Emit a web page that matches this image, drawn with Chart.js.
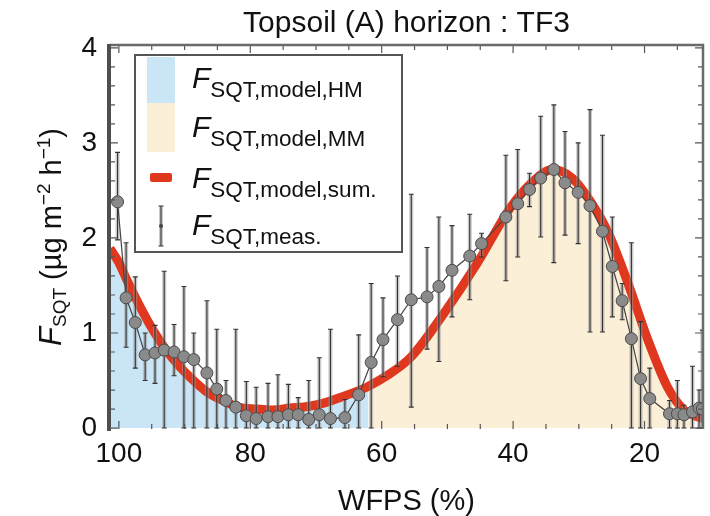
<!DOCTYPE html>
<html><head><meta charset="utf-8">
<script src="https://cdn.jsdelivr.net/npm/chart.js@4.4.1/dist/chart.umd.min.js"></script>
<style>html,body{margin:0;padding:0;background:#fff;}#wrap{width:710px;height:516px;}</style>
</head><body><div id="wrap"><canvas id="c" width="710" height="516"></canvas></div>
<script>
// ---- data ----
const measWFPS = [100.2, 98.9, 97.5, 96.0, 94.5, 93.1, 91.6, 90.1, 88.6, 86.6, 85.1, 83.7, 82.2, 80.6, 79.1, 77.3, 75.8, 74.2, 72.7, 71.1, 69.5, 67.8, 65.6, 63.5, 61.6, 59.8, 57.6, 55.5, 53.1, 51.3, 49.3, 46.6, 44.8, 41.1, 39.3, 37.5, 35.8, 33.8, 32.1, 30.1, 28.3, 26.4, 24.9, 23.4, 22.0, 20.6, 19.2, 16.2, 15.0, 14.0, 12.7, 11.7, 11.2];
const measFlux = [2.38, 1.37, 1.11, 0.77, 0.79, 0.82, 0.80, 0.75, 0.72, 0.58, 0.41, 0.29, 0.22, 0.13, 0.10, 0.12, 0.12, 0.14, 0.14, 0.09, 0.14, 0.10, 0.11, 0.35, 0.69, 0.93, 1.14, 1.35, 1.38, 1.49, 1.66, 1.81, 1.94, 2.22, 2.36, 2.51, 2.63, 2.72, 2.58, 2.48, 2.34, 2.07, 1.70, 1.34, 0.94, 0.52, 0.31, 0.15, 0.15, 0.14, 0.17, 0.21, 0.20];
const measLow  = [1.98, 0.85, 0.63, 0.50, 0.47, 0.00, 0.55, 0.00, 0.00, 0.00, 0.00, 0.00, 0.00, 0.00, 0.00, 0.00, 0.00, 0.00, 0.00, 0.00, 0.00, 0.00, 0.00, 0.00, 0.00, 0.54, 0.65, 0.22, 0.83, 0.70, 1.17, 1.35, 1.80, 1.55, 1.80, 2.33, 2.01, 1.74, 2.03, 1.94, 1.01, 1.01, 1.17, 1.14, 0.00, 0.00, 0.00, 0.00, 0.00, 0.00, 0.00, 0.00, 0.00];
const measHigh = [2.90, 1.95, 1.59, 1.00, 1.08, 1.65, 1.09, 1.49, 1.00, 1.34, 1.04, 0.50, 1.04, 0.49, 0.43, 0.47, 0.56, 0.46, 0.32, 0.50, 0.74, 1.04, 0.30, 0.98, 1.52, 1.37, 1.60, 2.46, 1.90, 2.22, 2.13, 2.25, 2.05, 2.87, 2.93, 2.68, 3.28, 3.40, 3.12, 3.00, 3.35, 3.08, 2.22, 1.52, 1.95, 1.12, 0.63, 0.29, 0.50, 0.24, 0.65, 0.40, 1.03];

const hmWFPS = [101.35, 100, 98.8, 96.8, 94.8, 92.8, 90.8, 88.8, 86.8, 84.8, 81.8, 79, 76.8, 74, 71, 69, 66, 64, 62];
const hmFlux = [1.89, 1.74, 1.56, 1.28, 1.03, 0.82, 0.65, 0.51, 0.39, 0.31, 0.22, 0.20, 0.19, 0.21, 0.23, 0.26, 0.33, 0.38, 0.44];

const mmWFPS = [62, 59, 55.5, 50.5, 45.5, 40.5, 37.5, 34, 31, 28, 25.5, 22.5, 19.5, 16.5, 14, 12.5];
const mmFlux = [0.44, 0.56, 0.75, 1.21, 1.73, 2.31, 2.56, 2.72, 2.63, 2.36, 2.05, 1.52, 0.93, 0.43, 0.19, 0.13];

const sumWFPS = [101.35, 100, 98.8, 96.8, 94.8, 92.8, 90.8, 88.8, 86.8, 84.8, 81.8, 79, 76.8, 74, 71, 69, 66, 64, 62, 59, 55.5, 50.5, 45.5, 40.5, 37.5, 34, 31, 28, 25.5, 22.5, 19.5, 16.5, 14, 12, 11.1];
const sumFlux = [1.89, 1.74, 1.56, 1.28, 1.03, 0.82, 0.65, 0.51, 0.39, 0.31, 0.22, 0.20, 0.19, 0.21, 0.23, 0.26, 0.33, 0.38, 0.44, 0.56, 0.75, 1.21, 1.73, 2.31, 2.56, 2.72, 2.63, 2.36, 2.05, 1.52, 0.93, 0.43, 0.19, 0.12, 0.10];

const xTickLabels = [100, 80, 60, 40, 20];
const yTickLabels = [0, 1, 2, 3, 4];
const xMinorStep = 5;
const yMinorStep = 0.2;

const titleText = 'Topsoil (A) horizon : TF3';
const xTitle = 'WFPS (%)';
const legendSubs = ['SQT,model,HM', 'SQT,model,MM', 'SQT,model,sum.', 'SQT,meas.'];

// ---- helpers ----
const pts = (xs, ys) => xs.map((x, i) => ({x: x, y: ys[i]}));
const FONT = '"Liberation Sans", Arial, sans-serif';

function richWidth(ctx, parts) {
  let w = 0;
  parts.forEach(p => { ctx.font = (p.it ? 'italic ' : '') + p.s + 'px ' + FONT; w += ctx.measureText(p.t).width; });
  return w;
}
function drawRich(ctx, parts, x, y) {
  parts.forEach(p => {
    ctx.font = (p.it ? 'italic ' : '') + p.s + 'px ' + FONT;
    ctx.fillText(p.t, x, y + (p.dy || 0));
    x += ctx.measureText(p.t).width;
  });
}

const decor = {
  id: 'decor',
  beforeDatasetDraw(chart, args) {
    if (args.index !== 3) return;
    const ctx = chart.ctx, xs = chart.scales.x, ys = chart.scales.y, a = chart.chartArea;
    ctx.save();
    ctx.beginPath(); ctx.rect(a.left, a.top, a.right - a.left, a.bottom - a.top); ctx.clip();
    measWFPS.forEach((w, i) => {
      const px = xs.getPixelForValue(w);
      const p1 = ys.getPixelForValue(measLow[i]), p2 = ys.getPixelForValue(measHigh[i]);
      ctx.strokeStyle = 'rgba(150,150,150,0.5)'; ctx.lineWidth = 4;
      ctx.beginPath(); ctx.moveTo(px, p1); ctx.lineTo(px, p2); ctx.stroke();
      ctx.strokeStyle = '#333'; ctx.lineWidth = 1.1;
      ctx.beginPath(); ctx.moveTo(px, p1); ctx.lineTo(px, p2);
      ctx.moveTo(px - 2.5, p2); ctx.lineTo(px + 2.5, p2);
      ctx.moveTo(px - 2.5, p1); ctx.lineTo(px + 2.5, p1);
      ctx.stroke();
    });
    ctx.restore();
  },
  afterDraw(chart) {
    const ctx = chart.ctx, xs = chart.scales.x, ys = chart.scales.y, a = chart.chartArea;
    ctx.save();
    // inward ticks
    ctx.strokeStyle = '#555'; ctx.lineWidth = 1.2;
    ctx.beginPath();
    for (let v = 15; v <= 100; v += xMinorStep) {
      const px = xs.getPixelForValue(v);
      const L = (v % 20 === 0) ? 8 : 5;
      ctx.moveTo(px, a.bottom); ctx.lineTo(px, a.bottom - L);
      ctx.moveTo(px, a.top); ctx.lineTo(px, a.top + L);
    }
    for (let k = 0; k <= 20; k++) {
      const v = k * yMinorStep;
      const py = ys.getPixelForValue(v);
      const L = (k % 5 === 0) ? 8 : 5;
      ctx.moveTo(a.left, py); ctx.lineTo(a.left + L, py);
      ctx.moveTo(a.right, py); ctx.lineTo(a.right - L, py);
    }
    ctx.stroke();
    // frame
    ctx.strokeStyle = '#6a6a6a'; ctx.lineWidth = 2.5;
    ctx.beginPath(); ctx.moveTo(a.left, a.top); ctx.lineTo(a.right, a.top); ctx.lineTo(a.right, a.bottom); ctx.stroke();
    ctx.strokeStyle = '#4f4f4f'; ctx.lineWidth = 4;
    ctx.beginPath(); ctx.moveTo(a.left - 1, a.top - 1); ctx.lineTo(a.left - 1, a.bottom + 2); ctx.stroke();

    // legend
    const L = {l: 135, t: 55, r: 402, b: 252};
    ctx.fillStyle = '#fff'; ctx.fillRect(L.l, L.t, L.r - L.l, L.b - L.t);
    ctx.strokeStyle = '#555'; ctx.lineWidth = 2;
    ctx.strokeRect(L.l, L.t, L.r - L.l, L.b - L.t);
    ctx.fillStyle = chart.data.datasets[2].backgroundColor; ctx.fillRect(147, 57, 28, 46);
    ctx.fillStyle = chart.data.datasets[1].backgroundColor; ctx.fillRect(147, 103, 28, 49);
    ctx.fillStyle = chart.data.datasets[0].borderColor;
    ctx.beginPath(); ctx.roundRect ? ctx.roundRect(150, 173, 22, 9, 2) : ctx.rect(150, 173, 22, 9); ctx.fill();
    ctx.strokeStyle = 'rgba(150,150,150,0.5)'; ctx.lineWidth = 4;
    ctx.beginPath(); ctx.moveTo(161, 206); ctx.lineTo(161, 246); ctx.stroke();
    ctx.strokeStyle = '#333'; ctx.lineWidth = 1.1;
    ctx.beginPath(); ctx.moveTo(161, 206); ctx.lineTo(161, 246);
    ctx.moveTo(158.5, 206); ctx.lineTo(163.5, 206); ctx.moveTo(158.5, 246); ctx.lineTo(163.5, 246); ctx.stroke();
    ctx.fillStyle = '#444'; ctx.beginPath(); ctx.arc(161, 226, 2, 0, Math.PI * 2); ctx.fill();

    ctx.fillStyle = '#111'; ctx.textAlign = 'left'; ctx.textBaseline = 'alphabetic';
    const baseY = [88, 137, 188, 235];
    legendSubs.forEach((s, i) => {
      drawRich(ctx, [{t: 'F', s: 30, it: true}, {t: s, s: 22.5, dy: 9}], 192, baseY[i]);
    });

    // title
    ctx.textAlign = 'center';
    ctx.font = '30px ' + FONT;
    ctx.fillText(titleText, (a.left + a.right) / 2, 32);
    // x title
    ctx.font = '29px ' + FONT;
    ctx.fillText(xTitle, (a.left + a.right) / 2, 510);
    // y title
    const yParts = [
      {t: 'F', s: 31, it: true}, {t: 'SQT', s: 19, dy: 5},
      {t: ' (\u00B5g m', s: 29}, {t: '\u22122', s: 19, dy: -11},
      {t: ' h', s: 29}, {t: '\u22121', s: 19, dy: -11}, {t: ')', s: 29}
    ];
    ctx.textAlign = 'left';
    ctx.translate(61, (a.top + a.bottom) / 2);
    ctx.rotate(-Math.PI / 2);
    const w = richWidth(ctx, yParts);
    drawRich(ctx, yParts, -w / 2, 0);
    ctx.restore();
  }
};

new Chart(document.getElementById('c'), {
  type: 'line',
  data: {
    datasets: [
      {label: 'sum', data: pts(sumWFPS, sumFlux), borderColor: '#e0381f', borderWidth: 9, pointRadius: 0,
       fill: false, cubicInterpolationMode: 'monotone', order: 1, clip: 0},
      {label: 'MM', data: pts(mmWFPS, mmFlux), backgroundColor: '#fcefd8', borderWidth: 0, borderColor: 'rgba(0,0,0,0)',
       pointRadius: 0, fill: 'origin', cubicInterpolationMode: 'monotone', order: 2, clip: 0},
      {label: 'HM', data: pts(hmWFPS, hmFlux), backgroundColor: '#c9e5f6', borderWidth: 0, borderColor: 'rgba(0,0,0,0)',
       pointRadius: 0, fill: 'origin', cubicInterpolationMode: 'monotone', order: 3, clip: 0},
      {label: 'meas', data: pts(measWFPS, measFlux), borderColor: '#444', borderWidth: 1.2, tension: 0,
       pointRadius: 6, pointBackgroundColor: '#8a8a8a', pointBorderColor: '#4a4a4a', pointBorderWidth: 1,
       fill: false, order: 0, clip: 0}
    ]
  },
  options: {
    responsive: false, animation: false, devicePixelRatio: 1,
    layout: {padding: {left: 0, right: 1, top: 45, bottom: 0}},
    plugins: {legend: {display: false}, tooltip: {enabled: false}, title: {display: false}},
    scales: {
      x: {
        type: 'linear', reverse: true, min: 11.1, max: 101.35,
        grid: {display: false, drawTicks: false}, border: {display: false},
        afterBuildTicks: s => { s.ticks = xTickLabels.map(v => ({value: v})); },
        afterFit: s => { s.height = 87; },
        ticks: {font: {family: FONT, size: 28}, color: '#111', padding: 8, maxRotation: 0, autoSkip: false}
      },
      y: {
        type: 'linear', min: -0.01, max: 4.03,
        grid: {display: false, drawTicks: false}, border: {display: false},
        afterBuildTicks: s => { s.ticks = yTickLabels.map(v => ({value: v})); },
        afterFit: s => { s.width = 110; },
        ticks: {font: {family: FONT, size: 28}, color: '#111', padding: 13, autoSkip: false}
      }
    }
  },
  plugins: [decor]
});
</script>
</body></html>
